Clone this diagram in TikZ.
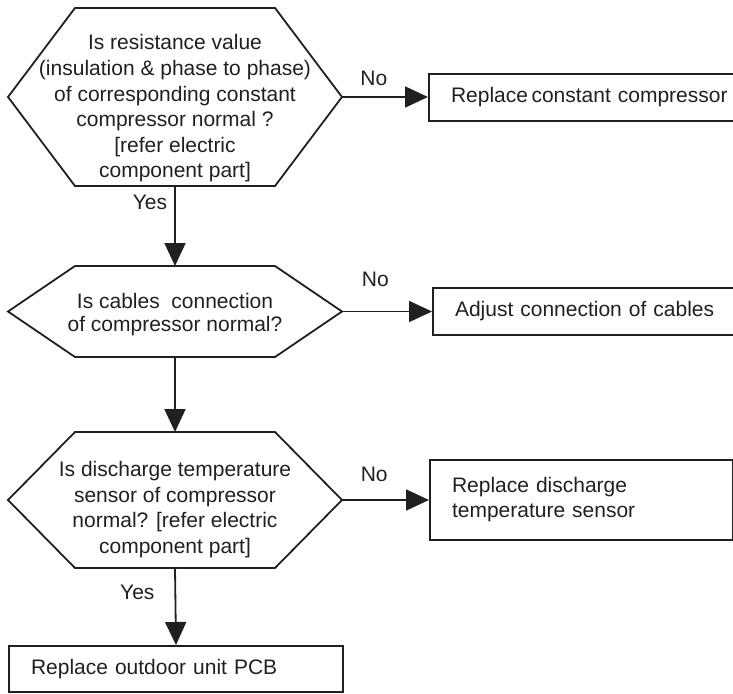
\documentclass[tikz,border=0pt]{standalone}
\usepackage{fontspec}
\setmainfont{Liberation Sans}
\usetikzlibrary{arrows.meta, positioning}
\definecolor{Ink}{HTML}{231F20}
\tikzset{
  hexq/.style={
    rectangle, draw=none, inner sep=0pt, outer sep=0pt,
    minimum width=334pt,
  },
  qtxt/.style={
    text=Ink, align=center, inner sep=0pt,
    font=\fontsize{21}{25.6}\selectfont,
  },
  abox/.style={
    rectangle, draw=Ink, line width=2pt, anchor=west,
    text=Ink, align=left, inner xsep=22pt, inner ysep=0pt,
    font=\fontsize{21}{25}\selectfont,
  },
  arr/.style={
    -{Triangle[length=23pt,width=21pt]},
    line width=1.8pt, color=Ink,
  },
  lbl/.style={
    font=\fontsize{21}{24}\selectfont, text=Ink, inner sep=0pt,
  },
}
% outline of a decision node: #1 node name, #2 bevel width
\newcommand{\hexout}[2]{%
  \draw[Ink, line width=1.8pt, line join=miter]
    ([xshift=#2]#1.north west) -- ([xshift=-#2]#1.north east) -- (#1.east)
    -- ([xshift=-#2]#1.south east) -- ([xshift=#2]#1.south west) -- (#1.west)
    -- cycle;}

\begin{document}
\begin{tikzpicture}[x=1pt,y=-1pt]
  \useasboundingbox (0,0) rectangle (733,693);
  \clip (0,0) rectangle (733,693);

  % decisions
  \node[hexq, minimum height=178pt] (Q1) at (175,97) {};
  \hexout{Q1}{67pt}
  \node[qtxt] (T1) at (175,108.5)
    {Is resistance value\\(insulation \& phase to phase)\\of corresponding constant\\
     compressor normal ?\\{[}refer electric\\component part]};

  \node[hexq, minimum height=91pt] (Q2) at (175,311.5) {};
  \hexout{Q2}{67pt}
  \node[qtxt, font=\fontsize{21}{23}\selectfont] (T2) at (175,315)
    {Is cables\ \ connection\\of compressor normal?};

  \node[hexq, minimum height=136pt] (Q3) at (175,500) {};
  \hexout{Q3}{67pt}
  \node[qtxt] (T3) at (175,509.5)
    {Is discharge temperature\\sensor of compressor\\normal? [refer electric\\component part]};

  % actions
  \node[abox, text width=320pt, minimum height=47pt] (R1) at (428,97)
    {Replace\,constant compressor};
  \node[abox, text width=320pt, minimum height=47pt] (R2) at (432,311.5)
    {Adjust connection of cables};
  \node[abox, text width=259pt, minimum height=80pt] (R3) at (429,500)
    {Replace discharge\\temperature sensor};
  \node[abox, text width=290pt, minimum height=46pt] (R4) at (8,669)
    {Replace outdoor unit PCB};

  \draw[arr] (Q1.east) -- (R1.west) node[lbl, pos=0.37, above=10.5pt] {No};
  \draw[arr] (Q2.east) -- (R2.west) node[lbl, pos=0.37, above=24pt] {No};
  \draw[arr] (Q3.east) -- (R3.west) node[lbl, pos=0.37, above=17pt] {No};

  \draw[arr] (Q1.south) -- (Q2.north) node[lbl, pos=0.21, left=7pt] {Yes};
  \draw[arr] (Q2.south) -- (Q3.north);
  \draw[arr] (Q3.south) -- (R4.north) node[lbl, pos=0.32, left=20pt] {Yes};

\end{tikzpicture}
\end{document}
